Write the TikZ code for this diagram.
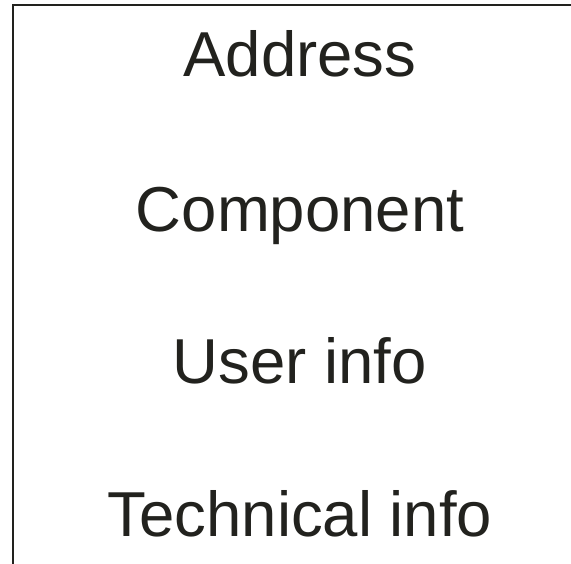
\documentclass[tikz,border=0pt]{standalone}
\usepackage{fontspec}
\setmainfont{Liberation Sans}
\usepackage{tikz}
\usetikzlibrary{positioning,calc}
\definecolor{FrameInk}{HTML}{22221E}

\begin{document}
\begin{tikzpicture}[x=1pt,y=1pt,
 field/.style={anchor=base,inner sep=0pt,text=FrameInk,font=\fontsize{63.5}{75}\selectfont}]
\useasboundingbox (0,0) rectangle (571,564);
% frame, cut at the right and bottom edges
\draw[FrameInk,line width=2.2pt] (13,0) -- (13,559) -- (571,559);
\node[field] (addr) at (300,487) {Address};
\node[field] (comp) at ($(addr.base)+(0,-155)$) {Component};
\node[field] (user) at ($(comp.base)+(0,-152)$) {User info};
\node[field] (tech) at ($(user.base)+(0,-153)$) {Technical info};
\end{tikzpicture}
\end{document}
